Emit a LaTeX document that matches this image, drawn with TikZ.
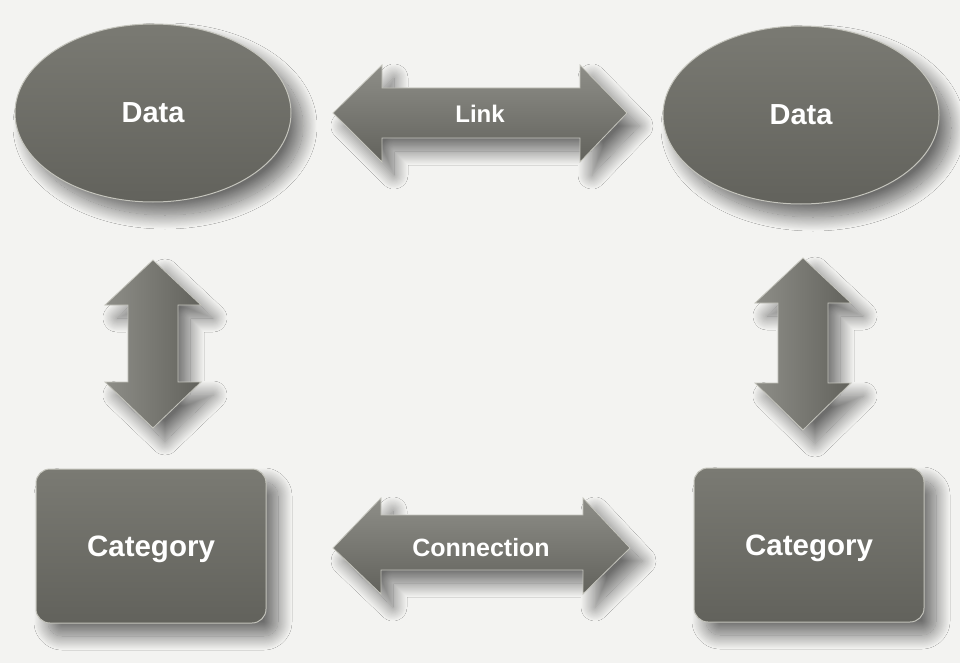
\documentclass[tikz,border=0pt]{standalone}
\usepackage{fontspec}
\setmainfont{Liberation Sans}
\usetikzlibrary{shapes.geometric,shadows.blur}
\definecolor{bg}{HTML}{F3F3F1}
\definecolor{body}{HTML}{6C6C65}
\definecolor{bodydark}{HTML}{62625C}
\definecolor{bodylight}{HTML}{7A7A73}
\definecolor{rim}{HTML}{C4C4BC}
\tikzset{
  softshadow/.style={blur shadow={shadow xshift=12pt, shadow yshift=-13pt, shadow blur radius=14pt, shadow blur steps=30, shadow opacity=55}},
  dataellipse/.style={ellipse, minimum width=276pt, minimum height=178pt, top color=bodylight, bottom color=bodydark, draw=rim, line width=1pt, softshadow, text=white, font=\fontsize{29}{31}\selectfont\bfseries},
  catbox/.style={rectangle, rounded corners=14pt, minimum width=230pt, minimum height=154pt, top color=bodylight, bottom color=bodydark, draw=rim, line width=1pt, softshadow, text=white, text depth=0pt, font=\fontsize{29.5}{31}\selectfont\bfseries},
  arrowshape/.style={top color=bodylight!85!white, bottom color=bodydark, draw=rim, line width=0.8pt, softshadow},
  arrowlabel/.style={text=white, font=\fontsize{24}{26}\selectfont\bfseries, inner sep=0pt},
}
\begin{document}
\begin{tikzpicture}[x=1pt, y=-1pt]
\fill[bg] (0,0) rectangle (960,663);
\useasboundingbox (0,0) rectangle (960,663);

\node[dataellipse] (dataL) at (153,113) {Data};
\node[dataellipse] (dataR) at (801,115) {Data};
\node[catbox] (catL) at (151,546) {Category};
\node[catbox] (catR) at (809,545) {Category};

% Link arrow
\path[arrowshape] (333,113) -- (382,65) -- (382,88) -- (580,88) -- (580,65) -- (627,113) -- (580,162) -- (580,138) -- (382,138) -- (382,162) -- cycle;
\node[arrowlabel] (link) at (480,114) {Link};

% Connection arrow
\path[arrowshape] (333,548) -- (381,498) -- (381,515) -- (583,515) -- (583,498) -- (630,548) -- (583,594) -- (583,570) -- (381,570) -- (381,594) -- cycle;
\node[arrowlabel, font=\fontsize{25}{27}\selectfont\bfseries] (conn) at (481,548) {Connection};

% Left vertical arrow
\path[arrowshape, left color=bodylight!85!white, right color=bodydark] (153,260) -- (201,305) -- (178,305) -- (178,382) -- (201,382) -- (153,428) -- (105,382) -- (128,382) -- (128,305) -- (105,305) -- cycle;
\coordinate (vL) at (153,344);

% Right vertical arrow
\path[arrowshape, left color=bodylight!85!white, right color=bodydark] (803,258) -- (851,303) -- (828,303) -- (828,383) -- (851,383) -- (803,430) -- (755,383) -- (778,383) -- (778,303) -- (755,303) -- cycle;
\coordinate (vR) at (803,344);
\end{tikzpicture}
\end{document}
